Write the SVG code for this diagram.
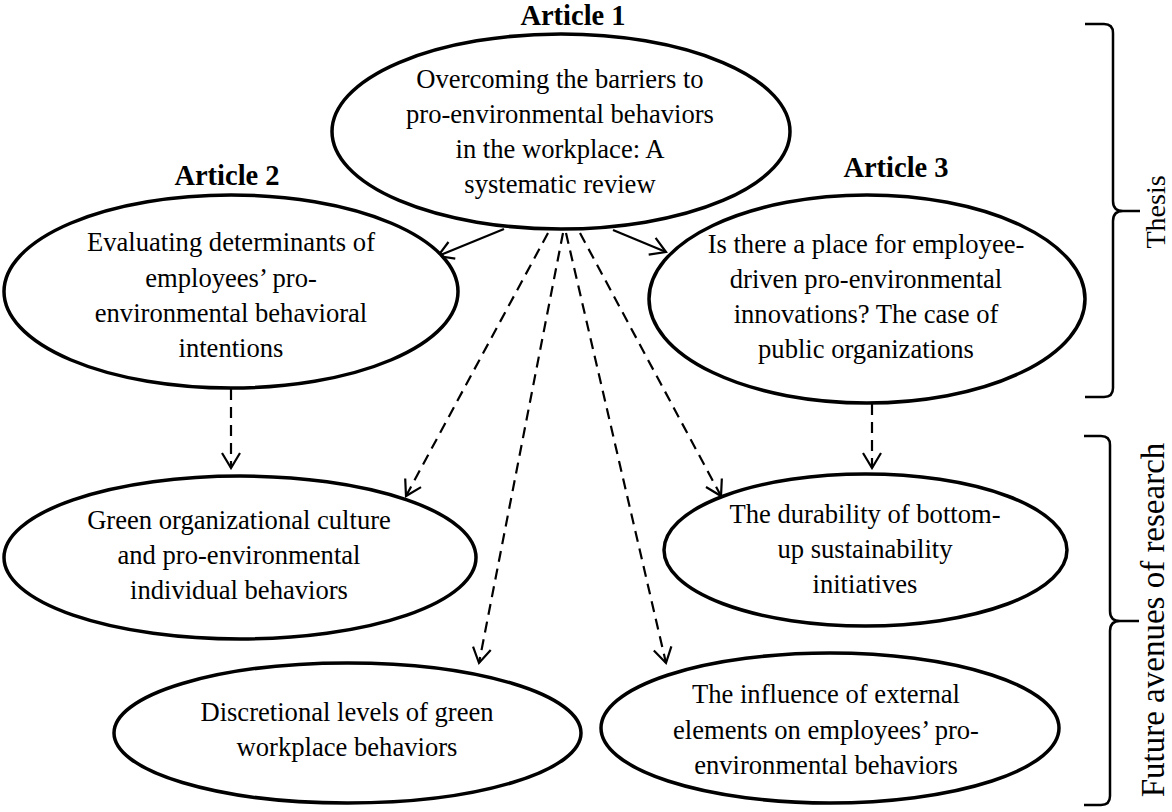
<svg xmlns="http://www.w3.org/2000/svg" width="1172" height="812" viewBox="0 0 1172 812">
  <style>
    .node { fill: #ffffff; stroke: #000000; stroke-width: 3.5; }
    .txt { font-family: "Liberation Serif", "Times New Roman", serif; font-size: 26.6px; fill: #000000; text-anchor: middle; }
    .title { font-family: "Liberation Serif", "Times New Roman", serif; font-size: 28.5px; font-weight: bold; fill: #000000; text-anchor: middle; }
    .side { font-family: "Liberation Serif", "Times New Roman", serif; fill: #000000; text-anchor: middle; }
    .link { fill: none; stroke: #000000; stroke-width: 2.2; }
    .dash { stroke-dasharray: 11 7; }
    .brace { fill: none; stroke: #000000; stroke-width: 2.5; }
  </style>
  <defs>
    <marker id="openArrow" viewBox="-18 -12 20 24" markerWidth="20" markerHeight="24" refX="0" refY="0" markerUnits="userSpaceOnUse" orient="auto">
      <path d="M-15,-9 L0,0 L-15,9" fill="none" stroke="#000000" stroke-width="2.2"/>
    </marker>
  </defs>
  <rect width="1172" height="812" fill="#ffffff"/>

  <!-- connectors -->
  <g id="connectors">
    <line class="link" x1="504" y1="229" x2="438" y2="256" marker-end="url(#openArrow)"/>
    <line class="link" x1="613" y1="230" x2="666" y2="252" marker-end="url(#openArrow)"/>
    <line class="link dash" x1="548" y1="233" x2="406" y2="496" marker-end="url(#openArrow)"/>
    <line class="link dash" x1="563" y1="233" x2="479" y2="663" marker-end="url(#openArrow)"/>
    <line class="link dash" x1="566" y1="233" x2="666" y2="663" marker-end="url(#openArrow)"/>
    <line class="link dash" x1="580" y1="233" x2="721" y2="496" marker-end="url(#openArrow)"/>
    <line class="link dash" x1="231" y1="389" x2="231" y2="468" marker-end="url(#openArrow)"/>
    <line class="link dash" x1="872" y1="404" x2="872" y2="468" marker-end="url(#openArrow)"/>
  </g>

  <!-- Article 1 -->
  <g id="article1">
    <text class="title" x="573" y="25">Article 1</text>
    <ellipse class="node" cx="561" cy="131.5" rx="229" ry="97.5"/>
    <text class="txt" x="560" y="88">Overcoming the barriers to</text>
    <text class="txt" x="560" y="123">pro-environmental behaviors</text>
    <text class="txt" x="560" y="158">in the workplace: A</text>
    <text class="txt" x="560" y="193">systematic review</text>
  </g>

  <!-- Article 2 -->
  <g id="article2">
    <text class="title" x="227" y="185">Article 2</text>
    <ellipse class="node" cx="231" cy="291.5" rx="227" ry="96.5"/>
    <text class="txt" x="231" y="251">Evaluating determinants of</text>
    <text class="txt" x="231" y="286.5">employees’ pro-</text>
    <text class="txt" x="231" y="322">environmental behavioral</text>
    <text class="txt" x="231" y="357">intentions</text>
  </g>

  <!-- Article 3 -->
  <g id="article3">
    <text class="title" x="896" y="177">Article 3</text>
    <ellipse class="node" cx="867" cy="299" rx="218" ry="104"/>
    <text class="txt" x="866" y="253">Is there a place for employee-</text>
    <text class="txt" x="866" y="288">driven pro-environmental</text>
    <text class="txt" x="866" y="323">innovations? The case of</text>
    <text class="txt" x="866" y="358">public organizations</text>
  </g>

  <!-- future research avenues -->
  <g id="green-culture">
    <ellipse class="node" cx="240" cy="557.5" rx="236" ry="81.5"/>
    <text class="txt" x="239" y="529">Green organizational culture</text>
    <text class="txt" x="239" y="564">and pro-environmental</text>
    <text class="txt" x="239" y="599">individual behaviors</text>
  </g>

  <g id="discretional-levels">
    <ellipse class="node" cx="347.5" cy="733" rx="233.5" ry="70"/>
    <text class="txt" x="347" y="721">Discretional levels of green</text>
    <text class="txt" x="347" y="756">workplace behaviors</text>
  </g>

  <g id="durability">
    <ellipse class="node" cx="865.5" cy="550" rx="201.5" ry="76"/>
    <text class="txt" x="865" y="523">The durability of bottom-</text>
    <text class="txt" x="865" y="558">up sustainability</text>
    <text class="txt" x="865" y="593">initiatives</text>
  </g>

  <g id="external-influence">
    <ellipse class="node" cx="830" cy="728" rx="229" ry="75"/>
    <text class="txt" x="826" y="703">The influence of external</text>
    <text class="txt" x="826" y="739">elements on employees’ pro-</text>
    <text class="txt" x="826" y="774">environmental behaviors</text>
  </g>

  <!-- grouping braces -->
  <g id="thesis-brace">
    <path class="brace" d="M1085,24 H1104 Q1113,24 1113,33 V201 Q1113,211 1123,211 H1140 H1123 Q1113,211 1113,221 V388 Q1113,397 1104,397 H1085"/>
    <text class="side" font-size="28" transform="translate(1165,212) rotate(-90)">Thesis</text>
  </g>

  <g id="future-brace">
    <path class="brace" d="M1084,436 H1101 Q1110,436 1110,445 V611 Q1110,621 1120,621 H1139 H1120 Q1110,621 1110,631 V796 Q1110,805 1101,805 H1084"/>
    <text class="side" font-size="33" transform="translate(1164,620) rotate(-90)">Future avenues of research</text>
  </g>
</svg>
